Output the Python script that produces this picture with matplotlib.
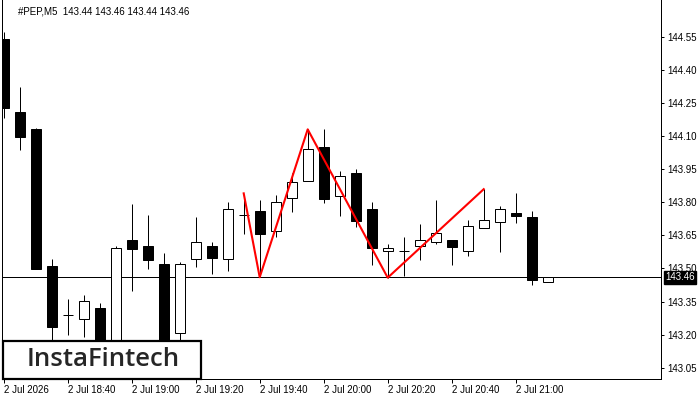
import matplotlib
matplotlib.use("Agg")
import matplotlib.pyplot as plt
from matplotlib.patches import Rectangle

# ---- data ----
title_text = "#PEP,M5  143.44 143.46 143.44 143.46"
opens  = [144.540, 144.209, 144.132, 143.511, 143.288, 143.270, 143.321, 143.100, 143.629, 143.602,
          143.520, 143.209, 143.541, 143.602, 143.541, 143.741, 143.760, 143.668, 143.818, 143.898,
          144.049, 143.830, 143.931, 143.769, 143.579, 143.579, 143.600, 143.618, 143.629, 143.578,
          143.682, 143.709, 143.751, 143.733, 143.440]
highs  = [144.570, 144.322, 144.135, 143.543, 143.361, 143.380, 143.343, 143.602, 143.791, 143.742,
          143.570, 143.529, 143.733, 143.621, 143.801, 143.813, 143.810, 143.833, 143.931, 144.130,
          144.132, 143.941, 143.949, 143.801, 143.611, 143.641, 143.701, 143.810, 143.629, 143.720,
          143.859, 143.783, 143.842, 143.760, 143.460]
lows   = [144.180, 144.038, 143.497, 143.150, 143.200, 143.190, 143.050, 143.060, 143.399, 143.498,
          143.100, 143.170, 143.508, 143.476, 143.489, 143.657, 143.463, 143.644, 143.757, 143.898,
          143.798, 143.738, 143.689, 143.517, 143.455, 143.467, 143.540, 143.609, 143.515, 143.558,
          143.682, 143.576, 143.707, 143.425, 143.440]
closes = [144.228, 144.097, 143.499, 143.236, 143.288, 143.351, 143.100, 143.591, 143.589, 143.538,
          143.140, 143.519, 143.618, 143.549, 143.768, 143.741, 143.657, 143.800, 143.892, 144.040,
          143.816, 143.917, 143.716, 143.591, 143.591, 143.579, 143.627, 143.659, 143.599, 143.691,
          143.718, 143.768, 143.739, 143.449, 143.460]

pattern_idx = [15, 16, 19, 24, 30]
pattern_price = [143.84, 143.46, 144.13, 143.458, 143.859]
level_price = 143.46
last_price_label = "143.46"

xtick_idx = [0, 4, 8, 12, 16, 20, 24, 28, 32]
xtick_labels = ["2 Jul 2026", "2 Jul 18:40", "2 Jul 19:00", "2 Jul 19:20", "2 Jul 19:40",
                "2 Jul 20:00", "2 Jul 20:20", "2 Jul 20:40", "2 Jul 21:00"]
ytick_vals = [143.05, 143.20, 143.35, 143.50, 143.65, 143.80, 143.95, 144.10, 144.25, 144.40, 144.55]
ytick_labels = ["143.05", "143.20", "143.35", "143.50", "143.65", "143.80", "143.95",
                "144.10", "144.25", "144.40", "144.55"]
logo_text = "InstaFintech"

# ---- figure ----
plt.rcParams['font.family'] = ['Liberation Sans', 'DejaVu Sans']
W, H = 700, 400
fig = plt.figure(figsize=(7, 4), dpi=100)
fig.patch.set_facecolor('white')
ax = fig.add_axes([2 / W, 21 / H, 659 / W, 379 / H])
ax.set_facecolor('white')
ax.set_xlim(-0.106, 41.08)
ax.set_ylim(142.999, 144.716)

px = 0.72  # one pixel in points
bw = 0.62
for i, (o, h, l, c) in enumerate(zip(opens, highs, lows, closes)):
    ax.plot([i, i], [l, h], color='black', lw=px, zorder=3, solid_capstyle='butt')
    bottom = min(o, c)
    height = abs(c - o)
    face = 'white' if c >= o else 'black'
    ax.add_patch(Rectangle((i - bw / 2, bottom), bw, height, facecolor=face,
                           edgecolor='black', lw=px, zorder=4))

ax.axhline(level_price, color='black', lw=px, zorder=2)
ax.plot(pattern_idx, pattern_price, color='#ff0000', lw=1.5, zorder=6)

# axes styling
ax.spines['top'].set_visible(False)
for s in ['left', 'bottom', 'right']:
    ax.spines[s].set_color('black')
    ax.spines[s].set_linewidth(px)
ax.yaxis.tick_right()
ax.set_yticks(ytick_vals)
ax.set_yticklabels(ytick_labels)
ax.set_xticks(xtick_idx)
ax.set_xticklabels(xtick_labels)
ax.tick_params(axis='y', direction='out', length=2.5, width=px, labelsize=7, pad=2)
ax.tick_params(axis='x', direction='out', length=3, width=px, labelsize=7, pad=1.5)
for lbl in ax.get_xticklabels():
    lbl.set_ha('left')

# last price box
ax.annotate(last_price_label, xy=(1.0, level_price), xycoords=('axes fraction', 'data'),
            xytext=(3, 0), textcoords='offset points', va='center', ha='left',
            fontsize=7, color='white', zorder=20, annotation_clip=False,
            bbox=dict(boxstyle='square,pad=0.15', facecolor='black', edgecolor='black'))

# title
fig.text(18 / W, 1 - 11 / H, title_text, fontsize=7, va='center', ha='left', color='black')

# logo box
ax.add_patch(Rectangle((3 / W, 21 / H), 198 / W, 38 / H, transform=fig.transFigure,
                       facecolor='white', edgecolor='black', lw=1.6, zorder=30, clip_on=False))
fig.text(103 / W, 1 - 360 / H, logo_text, fontsize=18.5, family='Open Sans', fontweight='semibold',
         color='#262626', va='center', ha='center', zorder=31)

fig.savefig('out.png', dpi=100, facecolor='white')
